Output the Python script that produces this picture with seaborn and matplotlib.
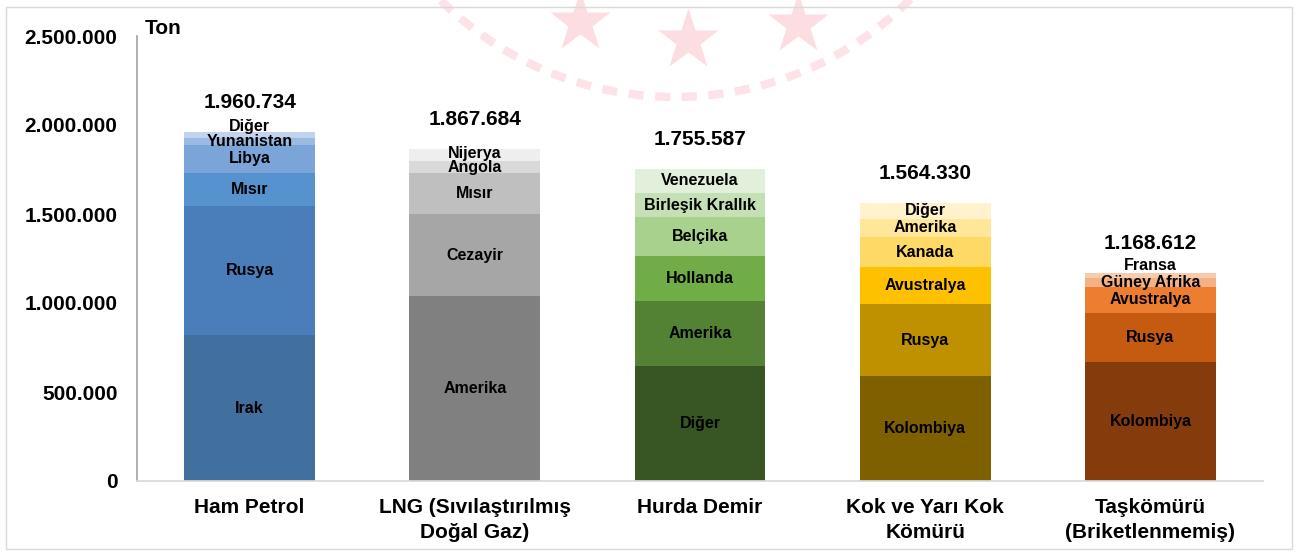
"""Ithalat: ürün bazında ülkelere göre yığılmış çubuk grafik."""

import numpy as np
import pandas as pd
import matplotlib.pyplot as plt
from matplotlib.patches import Rectangle
import seaborn as sns


# ====== Veri ======
categories = [
    "Ham Petrol",
    "LNG (Sıvılaştırılmış\nDoğal Gaz)",
    "Hurda Demir",
    "Kok ve Yarı Kok\nKömürü",
    "Taşkömürü\n(Briketlenmemiş)",
]
totals = [1960734, 1867684, 1755587, 1564330, 1168612]

ham_petrol_countries = ["Irak", "Rusya", "Mısır", "Libya", "Yunanistan", "Diğer"]
ham_petrol_values = [820000, 725000, 185000, 158000, 39000, 33734]

lng_countries = ["Amerika", "Cezayir", "Mısır", "Angola", "Nijerya"]
lng_values = [1039000, 461000, 230000, 68000, 69684]

hurda_countries = ["Diğer", "Amerika", "Hollanda", "Belçika", "Birleşik Krallık", "Venezuela"]
hurda_values = [646000, 365000, 253000, 219000, 135000, 137587]

kok_countries = ["Kolombiya", "Rusya", "Avustralya", "Kanada", "Amerika", "Diğer"]
kok_values = [590000, 404000, 208000, 169000, 101000, 92330]

taskomuru_countries = ["Kolombiya", "Rusya", "Avustralya", "Güney Afrika", "Fransa"]
taskomuru_values = [669000, 275000, 146000, 50000, 28612]

# ====== Stil ======
palettes = [
    ["#41709F", "#4A7EBB", "#5592CE", "#7BA4D9", "#9BBAE2", "#C2D3EE"],
    ["#808080", "#A6A6A6", "#BFBFBF", "#D9D9D9", "#EEEEEE"],
    ["#375623", "#548235", "#70AD47", "#A9D18E", "#C5E0B4", "#E2EFDA"],
    ["#7F6000", "#BF9000", "#FFC000", "#FFD966", "#FFE699", "#FFF2CC"],
    ["#843C0C", "#C55A11", "#ED7D31", "#F4B183", "#F8CBAD"],
]
# küçük dilimlerde etiket kaydırma (punto, yukarı)
label_nudge = {(0, "Diğer"): 6, (4, "Fransa"): 7, (1, "Nijerya"): 1}

FONT = ["Liberation Sans", "DejaVu Sans"]


def build_dataframe():
    """Uzun formatta tablo: her satır bir dilim."""
    groups = [
        (ham_petrol_countries, ham_petrol_values),
        (lng_countries, lng_values),
        (hurda_countries, hurda_values),
        (kok_countries, kok_values),
        (taskomuru_countries, taskomuru_values),
    ]
    rows = []
    for i, (countries, values) in enumerate(groups):
        cum = np.cumsum(values)
        for k, (c, v) in enumerate(zip(countries, values)):
            rows.append({
                "idx": i,
                "category": categories[i],
                "country": c,
                "value": v,
                "layer": k,
                "cum": cum[k],
                "bottom": cum[k] - v,
                "color": palettes[i][k],
            })
    return pd.DataFrame(rows)


def draw_watermark(fig):
    """Arka plandaki soluk amblem."""
    bg = fig.add_axes([0, 0, 1, 1], zorder=0)
    bg.set_xlim(0, 1301)
    bg.set_ylim(552, 0)
    bg.axis("off")
    cx, cy, r = 675, -235, 332
    ang = np.linspace(np.radians(138), np.radians(40), 200)
    xs = cx - r * np.cos(ang)
    ys = cy + r * np.sin(ang)
    bg.plot(xs, ys, color="#FDE3E8", lw=6, ls=(0, (1.8, 1.4)),
            solid_capstyle="butt")
    for sx, sy in [(580, 22), (688, 40), (798, 24)]:
        bg.plot(sx, sy, marker="*", ms=46, color="#FCDDE2", mec="none")
    fig.add_artist(Rectangle((6 / 1301, 3 / 552), 1286 / 1301, 542 / 552,
                             transform=fig.transFigure, fill=False,
                             edgecolor="#D9D9D9", lw=1))


def main():
    df = build_dataframe()

    sns.set_theme(style="white")
    plt.rcParams["font.family"] = FONT
    plt.rcParams["font.weight"] = "bold"
    plt.rcParams["text.color"] = "black"
    plt.rcParams["xtick.color"] = "black"
    plt.rcParams["ytick.color"] = "black"

    fig = plt.figure(figsize=(13.01, 5.52), dpi=100)
    draw_watermark(fig)
    ax = fig.add_axes([137 / 1301, 1 - 481 / 552, 1126 / 1301, 445 / 552], zorder=1)
    ax.set_facecolor("none")

    # üstten alta kümülatif çubuklar üst üste çizilir
    for k in range(df["layer"].max(), -1, -1):
        sub = df[df["layer"] == k]
        pal = dict(zip(sub["category"], sub["color"]))
        sns.barplot(
            data=sub, x="category", y="cum", hue="category",
            order=categories, hue_order=list(sub["category"]),
            palette=pal, saturation=1, width=0.58, errorbar=None,
            linewidth=0, legend=False, ax=ax,
        )

    for _, row in df.iterrows():
        dy = label_nudge.get((row["idx"], row["country"]), 0)
        ax.annotate(row["country"], (row["idx"], row["bottom"] + row["value"] / 2),
                    xytext=(0, dy), textcoords="offset points",
                    ha="center", va="center", fontsize=11.5,
                    fontweight="bold", color="black")

    for i, total in enumerate(totals):
        label = f"{total:,}".replace(",", ".")
        ax.annotate(label, (i, total), xytext=(0, 21), textcoords="offset points",
                    ha="center", va="center", fontsize=15, fontweight="bold",
                    color="black")

    ax.set_ylim(0, 2500000)
    ax.set_xlim(-0.5, 4.5)
    yticks = np.arange(0, 2500001, 500000)
    ax.set_yticks(yticks)
    ax.set_yticklabels([f"{v:,}".replace(",", ".") for v in yticks],
                       fontsize=15, fontweight="bold", color="black")
    ax.set_xticks(range(len(categories)))
    ax.set_xticklabels(categories, fontsize=15, fontweight="bold",
                       linespacing=1.4, color="black")
    ax.tick_params(axis="x", length=0, pad=12)
    ax.tick_params(axis="y", length=0, pad=14)
    ax.set_xlabel("")
    ax.set_ylabel("")

    sns.despine(ax=ax)
    ax.spines["left"].set_color("#A6A6A6")
    ax.spines["bottom"].set_color("#D9D9D9")

    fig.text(145 / 1301, 1 - 28 / 552, "Ton", ha="left", va="center",
             fontsize=15, fontweight="bold", color="black")

    fig.savefig("out.png", dpi=100)


if __name__ == "__main__":
    main()
